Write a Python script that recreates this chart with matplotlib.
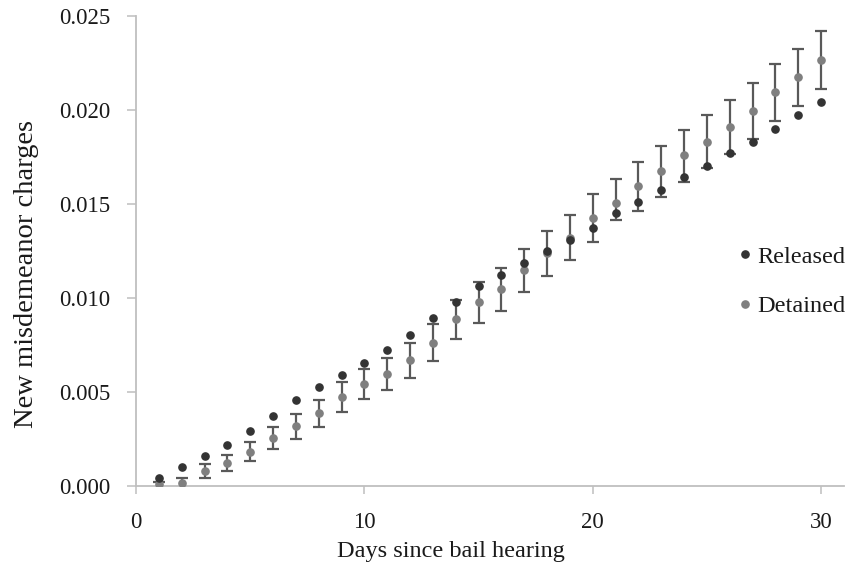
import matplotlib
matplotlib.use("Agg")
import matplotlib.pyplot as plt
from matplotlib.lines import Line2D
import numpy as np

days = list(range(1, 31))
released = [0.00044, 0.00102, 0.00157, 0.0022, 0.0029, 0.00373, 0.00459, 0.00524, 0.0059, 0.00654,
            0.00721, 0.00803, 0.00894, 0.00981, 0.01064, 0.01124, 0.01186, 0.0125, 0.01307, 0.01372,
            0.0145, 0.01508, 0.01574, 0.01641, 0.01701, 0.01769, 0.01829, 0.01901, 0.01973, 0.02045]
detained = [0.0001, 0.00017, 0.0008, 0.00123, 0.00183, 0.00257, 0.00317, 0.00389, 0.00473, 0.00544,
            0.00596, 0.0067, 0.00762, 0.00887, 0.00978, 0.01047, 0.01148, 0.01239, 0.01321, 0.01425,
            0.01506, 0.01595, 0.01675, 0.01758, 0.0183, 0.01912, 0.01995, 0.02094, 0.02177, 0.02265]
det_low = [-0.0002, -0.0001, 0.00044, 0.00079, 0.00132, 0.00199, 0.00252, 0.00316, 0.00394, 0.00463,
           0.00509, 0.00576, 0.00665, 0.00783, 0.00869, 0.00933, 0.01031, 0.01119, 0.012, 0.013,
           0.01415, 0.01462, 0.01538, 0.01618, 0.01689, 0.01765, 0.01848, 0.01944, 0.02023, 0.0211]
det_high = [0.0002, 0.0004, 0.00116, 0.00166, 0.00233, 0.00316, 0.00383, 0.00459, 0.00553, 0.00625,
            0.0068, 0.00763, 0.00863, 0.0099, 0.01087, 0.0116, 0.01261, 0.01358, 0.01443, 0.01551,
            0.01632, 0.01726, 0.01809, 0.01894, 0.01972, 0.02055, 0.02142, 0.02244, 0.02327, 0.02418]
x_ticks = [0, 10, 20, 30]
y_ticks = [0.0, 0.005, 0.010, 0.015, 0.020, 0.025]

plt.rcParams['font.family'] = ['Liberation Serif', 'DejaVu Serif']

fig = plt.figure(figsize=(8.56, 5.71), dpi=100)
ax = fig.add_axes([136/856, 1-486/571, (844-136)/856, (486-16)/571])

d = np.array(detained)
lo = d - np.array(det_low)
hi = np.array(det_high) - d
ax.errorbar(days, detained, yerr=[lo, hi], fmt='none', ecolor='#595959',
            elinewidth=1.6, capsize=4.3, capthick=1.6, zorder=2)
ax.plot(days, detained, 'o', color='#7f7f7f', markersize=5.2, zorder=3, linestyle='none')
ax.plot(days, released, 'o', color='#333333', markersize=5.2, zorder=4, linestyle='none')

ax.set_xlim(0, 31)
ax.set_ylim(0, 0.025)
ax.set_xticks(x_ticks)
ax.set_yticks(y_ticks)
ax.set_yticklabels([f"{v:.3f}" for v in y_ticks])

for s in ['top', 'right']:
    ax.spines[s].set_visible(False)
for s in ['left', 'bottom']:
    ax.spines[s].set_color('#bfbfbf')
    ax.spines[s].set_linewidth(1.3)

ax.tick_params(axis='y', direction='out', length=6.5, width=1.1, color='#bfbfbf',
               labelsize=16.5, pad=12, labelcolor='#1a1a1a')
ax.tick_params(axis='x', direction='out', length=6, width=1.1, color='#bfbfbf',
               labelsize=16.5, pad=12.5, labelcolor='#1a1a1a')

ax.set_xlabel('Days since bail hearing', fontsize=17.5, color='#1a1a1a')
ax.xaxis.set_label_coords(0.445, -0.118)
ax.set_ylabel('New misdemeanor charges', fontsize=20.5, color='#1a1a1a')
ax.yaxis.set_label_coords(-0.137, 0.452)

handles = [Line2D([], [], marker='o', color='#333333', linestyle='none', markersize=5.2),
           Line2D([], [], marker='o', color='#7f7f7f', linestyle='none', markersize=5.2)]
fig.legend(handles, ['Released', 'Detained'], loc='center left',
           bbox_to_anchor=(738/856, 1-281.5/571), frameon=False, fontsize=17.5,
           handlelength=0.55, handletextpad=0.25, labelspacing=1.15, borderpad=0,
           borderaxespad=0, labelcolor='#1a1a1a')

fig.savefig('out.png', dpi=100)
